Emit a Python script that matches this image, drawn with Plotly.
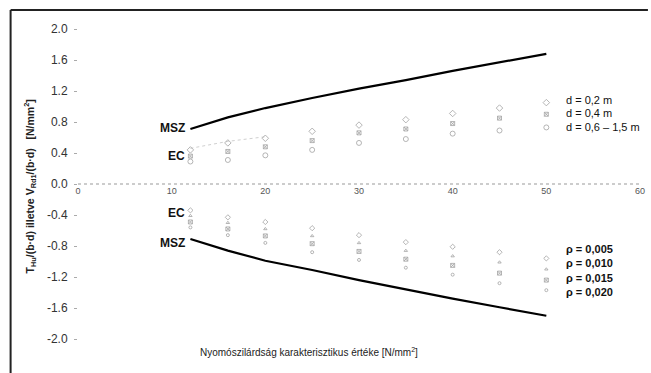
import plotly.graph_objects as go

# Concrete characteristic compressive strength [N/mm2]
fck = [12, 16, 20, 25, 30, 35, 40, 45, 50]

# MSZ limit curves (positive and negative branch)
msz_upper = [0.71, 0.86, 0.98, 1.11, 1.23, 1.34, 1.46, 1.57, 1.68]
msz_lower = [-0.71, -0.86, -0.99, -1.11, -1.24, -1.36, -1.48, -1.59, -1.70]

# EC values, upper branch by effective depth d
ec_d02 = [0.44, 0.53, 0.59, 0.68, 0.76, 0.83, 0.91, 0.98, 1.05]
ec_d04 = [0.36, 0.42, 0.48, 0.56, 0.66, 0.71, 0.78, 0.85, 0.90]
ec_d06 = [0.29, 0.31, 0.37, 0.44, 0.53, 0.58, 0.65, 0.69, 0.73]

# EC values, lower branch by reinforcement ratio rho
ec_r005 = [-0.34, -0.43, -0.49, -0.57, -0.66, -0.75, -0.81, -0.88, -0.96]
ec_r010 = [-0.41, -0.50, -0.58, -0.67, -0.76, -0.86, -0.93, -1.01, -1.10]
ec_r015 = [-0.49, -0.58, -0.67, -0.77, -0.87, -0.97, -1.05, -1.15, -1.24]
ec_r020 = [-0.56, -0.66, -0.76, -0.88, -0.98, -1.08, -1.17, -1.28, -1.37]

d_labels = ["d = 0,2 m", "d = 0,4 m", "d = 0,6 – 1,5 m"]
d_label_y = [1.08, 0.92, 0.74]
rho_labels = ["ρ = 0,005", "ρ = 0,010", "ρ = 0,015", "ρ = 0,020"]
rho_label_y = [-0.84, -1.02, -1.21, -1.39]

x_ticks = [0, 10, 20, 30, 40, 50, 60]
y_ticks = [2.0, 1.6, 1.2, 0.8, 0.4, 0.0, -0.4, -0.8, -1.2, -1.6, -2.0]
y_ticktext = ["2.0", "1.6", "1.2", "0.8", "0.4", "0.0", "-0.4", "-0.8", "-1.2", "-1.6", "-2.0"]

# pixel layout of the plotting area
W, H = 651, 373
L, R, T, B = 78, 645, 29, 339


def px(x):
    return (x - L) / (R - L)


def py(y):
    return (B - y) / (B - T)


FONT = "Liberation Sans, Arial, sans-serif"
GREY = "#a2a2a2"

fig = go.Figure()

# faint dotted link between the first EC markers
fig.add_trace(go.Scatter(x=fck[:3], y=[v + 0.02 for v in ec_d02[:3]], mode="lines",
                         line=dict(color="#d0d0d0", width=1, dash="dot"),
                         hoverinfo="skip", showlegend=False))

fig.add_trace(go.Scatter(x=fck, y=msz_upper, mode="lines",
                         line=dict(color="black", width=2.2), showlegend=False))
fig.add_trace(go.Scatter(x=fck, y=msz_lower, mode="lines",
                         line=dict(color="black", width=2.2), showlegend=False))

marker_sets = [
    (ec_d02, "diamond-open", 5),
    (ec_d04, "square-x-open", 4),
    (ec_d06, "circle-open", 5),
    (ec_r005, "diamond-open", 4),
    (ec_r010, "triangle-up-open", 3),
    (ec_r015, "square-x-open", 4),
    (ec_r020, "circle-open", 3),
]
for vals, sym, size in marker_sets:
    fig.add_trace(go.Scatter(x=fck, y=vals, mode="markers",
                             marker=dict(symbol=sym, size=size, color=GREY,
                                         line=dict(width=0.8, color=GREY)),
                             showlegend=False))

annotations = []
for txt, yv in zip(d_labels, d_label_y):
    annotations.append(dict(x=51.9, y=yv, xref="x", yref="y", text=txt, showarrow=False,
                            xanchor="left", yanchor="middle",
                            font=dict(family=FONT, size=11, color="#111")))
for txt, yv in zip(rho_labels, rho_label_y):
    annotations.append(dict(x=51.9, y=yv, xref="x", yref="y", text="<b>" + txt + "</b>",
                            showarrow=False, xanchor="left", yanchor="middle",
                            font=dict(family=FONT, size=11, color="#111")))

for txt, ypix in [("MSZ", 128), ("EC", 156), ("EC", 213), ("MSZ", 243)]:
    annotations.append(dict(x=px(188), y=py(ypix), xref="paper", yref="paper",
                            text="<b>" + txt + "</b>", showarrow=False,
                            xanchor="right", yanchor="middle",
                            font=dict(family=FONT, size=12, color="#111")))

annotations.append(dict(x=px(311), y=py(352), xref="paper", yref="paper",
                        text="Nyomószilárdság karakterisztikus értéke [N/mm<sup>2</sup>]",
                        showarrow=False, xanchor="center", yanchor="middle",
                        font=dict(family=FONT, size=10, color="#222")))
annotations.append(dict(x=px(30), y=py(186), xref="paper", yref="paper", textangle=-90,
                        text="<b>T<sub>Hu</sub>/(b·d) illetve V<sub>Rd1</sub>/(b·d)   [N/mm<sup>2</sup>]</b>",
                        showarrow=False, xanchor="center", yanchor="middle",
                        font=dict(family=FONT, size=10.5, color="#222")))

shapes = [
    # dotted zero line
    dict(type="line", xref="paper", yref="y", x0=0, x1=1, y0=0, y1=0,
         line=dict(color="#999", width=1, dash="dot")),
    # frame (top and left edges)
    dict(type="line", xref="paper", yref="paper", x0=px(10), x1=px(W + 2), y0=py(10), y1=py(10),
         line=dict(color="#222", width=2)),
    dict(type="line", xref="paper", yref="paper", x0=px(10), x1=px(10), y0=py(10), y1=py(H + 2),
         line=dict(color="#222", width=2)),
]

fig.update_layout(
    width=W, height=H,
    margin=dict(l=L, r=W - R, t=T, b=H - B),
    paper_bgcolor="white", plot_bgcolor="white",
    showlegend=False,
    annotations=annotations, shapes=shapes,
    xaxis=dict(range=[0, 60], tickvals=x_ticks, ticktext=[str(v) for v in x_ticks],
               anchor="free", position=py(184), showgrid=False, zeroline=False,
               showline=False, ticks="", tickfont=dict(family=FONT, size=9, color="#555")),
    yaxis=dict(range=[-2, 2], tickvals=y_ticks, ticktext=y_ticktext,
               showgrid=False, zeroline=False, showline=False,
               ticks="outside", ticklen=3, tickcolor="#aaa", tickwidth=1,
               ticklabelstandoff=4,
               tickfont=dict(family=FONT, size=12, color="#333")),
)

fig.write_html("out.html")
